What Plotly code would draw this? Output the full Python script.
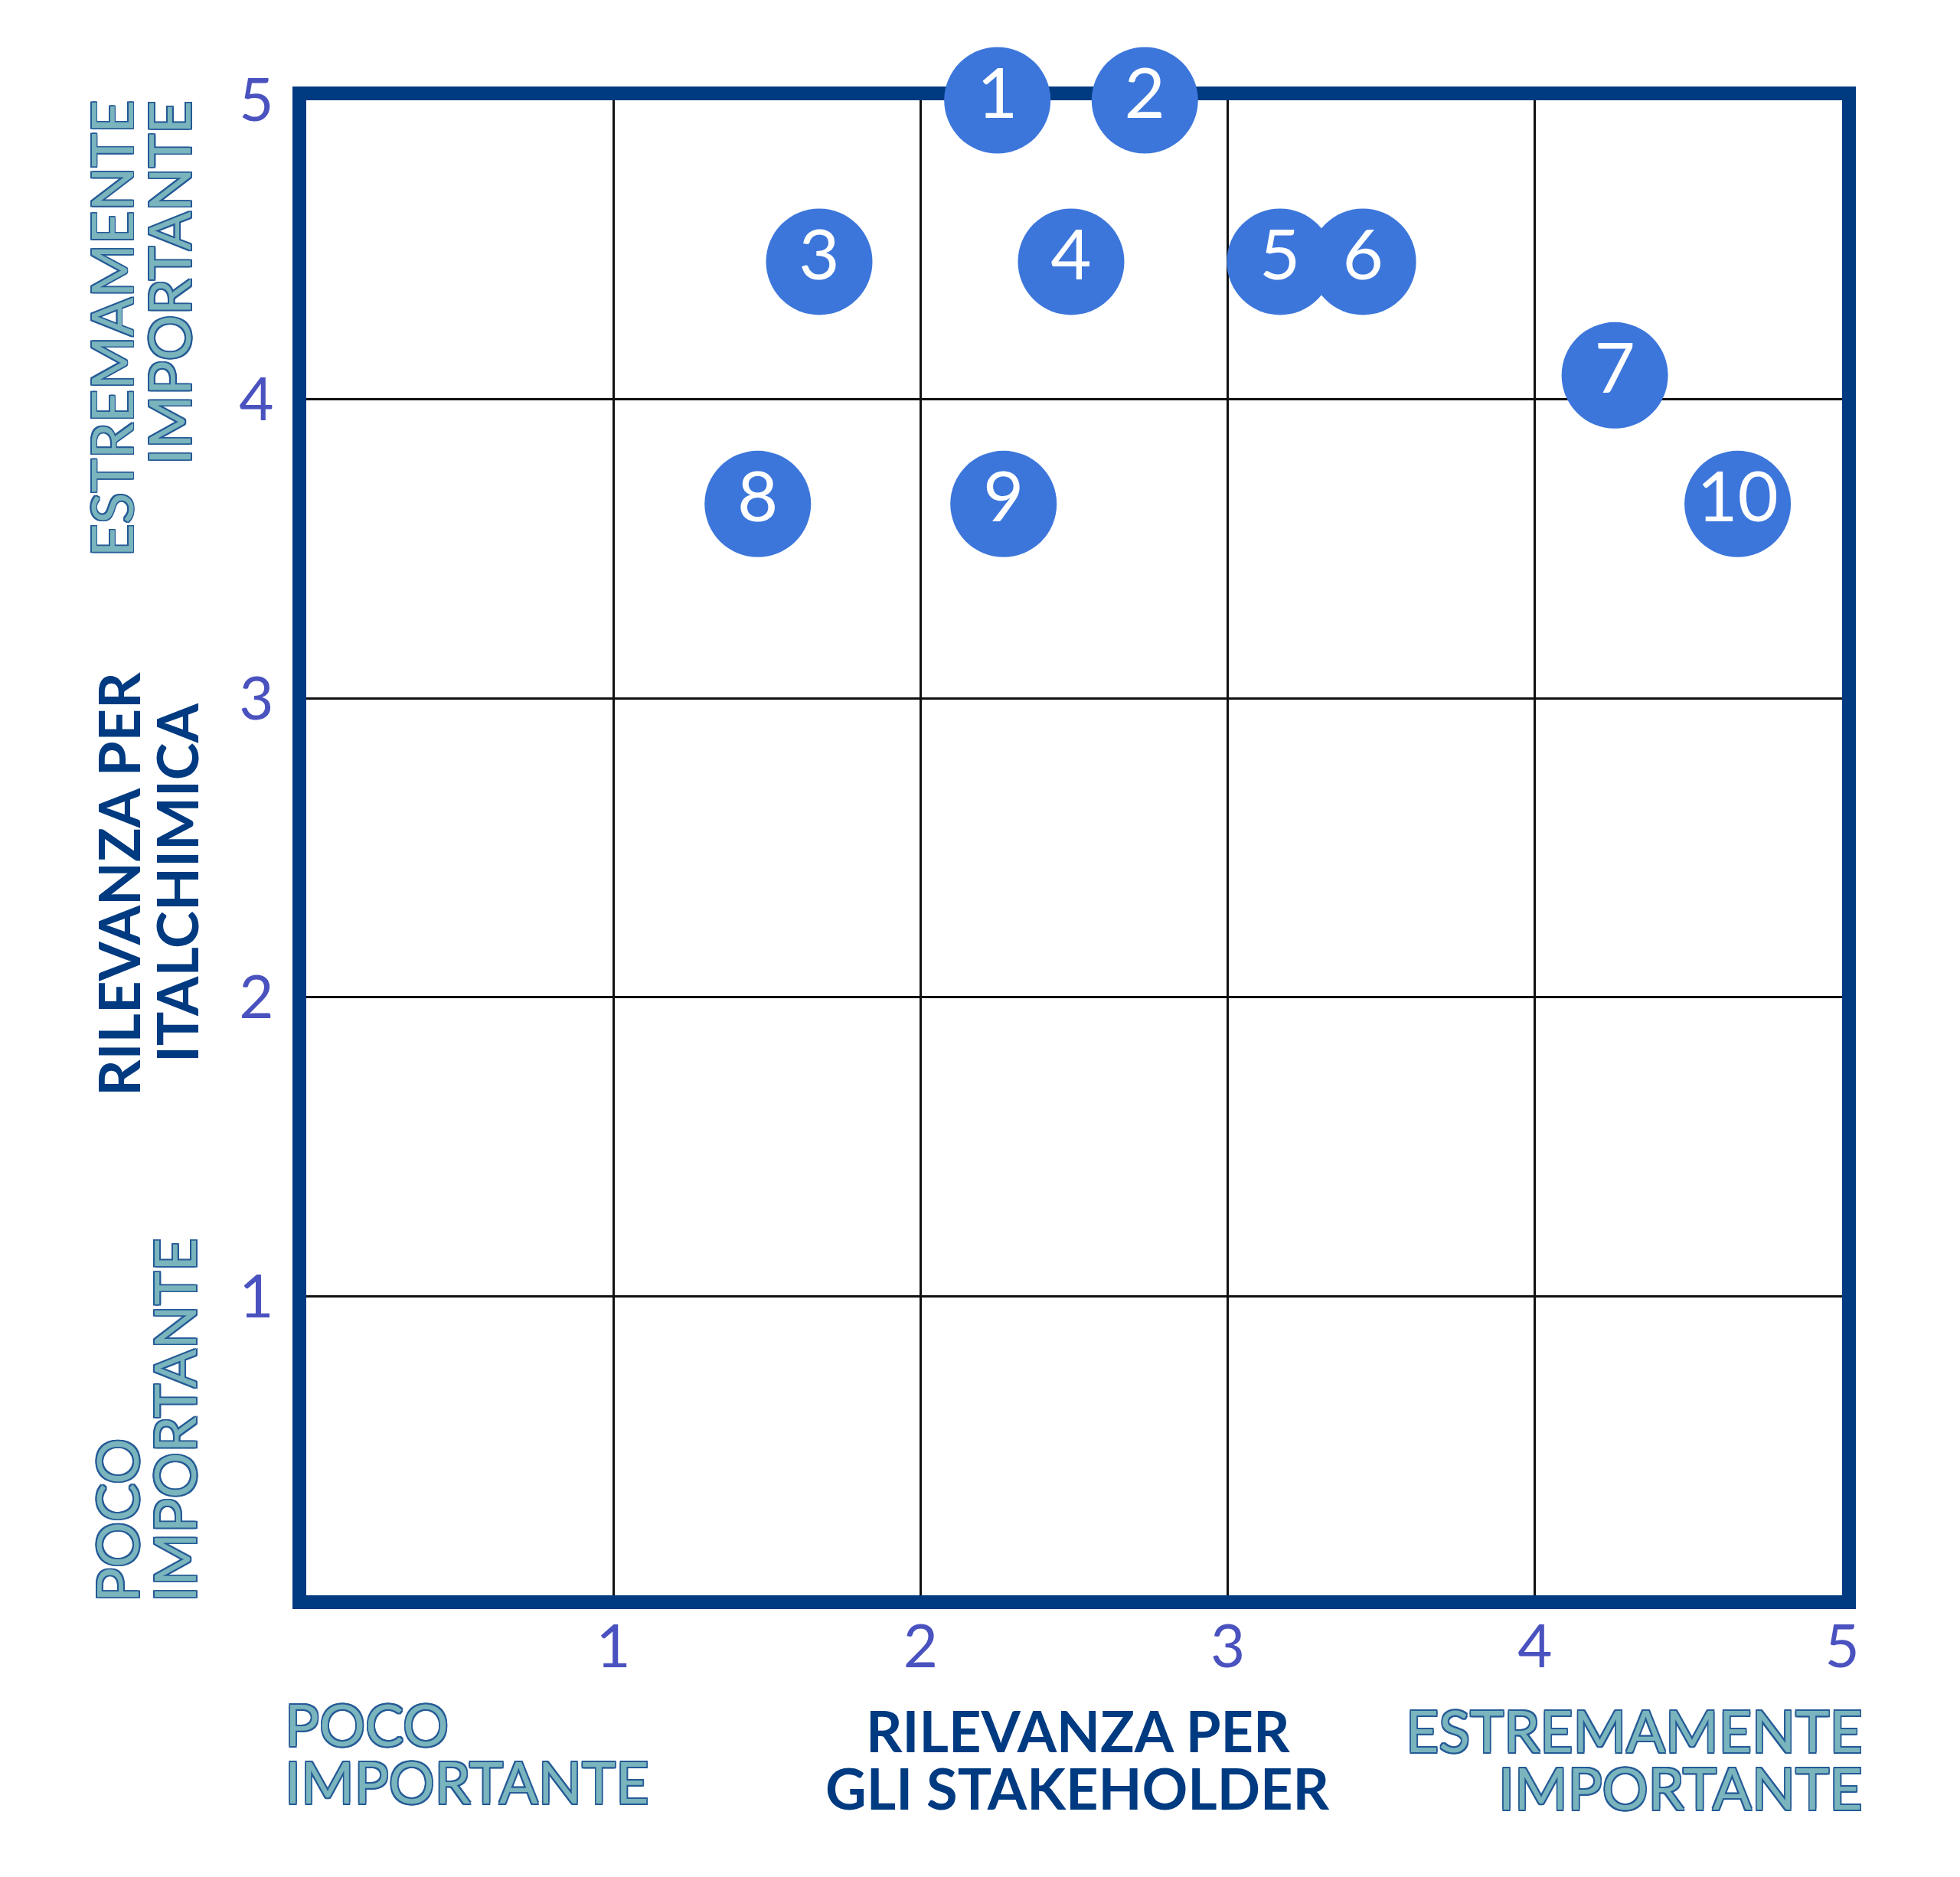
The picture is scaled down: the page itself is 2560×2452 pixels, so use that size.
import plotly.graph_objects as go

# topics placed on the materiality matrix
topic_labels = ["1", "2", "3", "4", "5", "6", "7", "8", "9", "10"]
stakeholder_score = [2.25, 2.73, 1.67, 2.49, 3.17, 3.44, 4.26, 1.47, 2.27, 4.66]
company_score = [5.0, 5.0, 4.46, 4.46, 4.46, 4.46, 4.08, 3.65, 3.65, 3.65]

tick_values = [1, 2, 3, 4, 5]
tick_labels = ["1", "2", "3", "4", "5"]

W, H = 2560, 2452
# the page body adds 8px, so the margins are pulled back by that much
L, R, T, B = 392, 162, 123, 376
PLOT_X0, PLOT_Y1 = 400, 2084  # inner edges of the frame on the page

NAVY = "#003A80"
DOT = "#3C76DB"
TICK = "#4A52BF"
TEAL = "#7AB4BD"
EDGE = "#245A96"
FONT = "Lato"


def outline(color, w=1.6):
    d = [(-w, -w), (w, -w), (-w, w), (w, w), (0, w), (0, -w), (w, 0), (-w, 0)]
    return ", ".join(f"{dx}px {dy}px 0 {color}" for dx, dy in d)


def px(x, y):
    # pixel position on the page -> paper coordinates
    return (x - PLOT_X0) / (W - L - R), (PLOT_Y1 - y) / (H - T - B)


def label(text, x, y, xanchor="center", yanchor="middle", angle=0, bold=False):
    ax, ay = px(x, y)
    if bold:
        font = dict(family=FONT, size=74, color=NAVY, weight=700)
    else:
        font = dict(family=FONT, size=75, color=TEAL, shadow=outline(EDGE))
    return dict(
        text=text, x=ax, y=ay, xref="paper", yref="paper",
        xanchor=xanchor, yanchor=yanchor, textangle=angle,
        showarrow=False, borderpad=0, font=font,
    )


fig = go.Figure(
    go.Scatter(
        x=stakeholder_score,
        y=company_score,
        mode="markers+text",
        text=topic_labels,
        textposition="middle center",
        textfont=dict(family=FONT, size=92, color="white"),
        marker=dict(size=139, color=DOT, line=dict(width=0)),
        cliponaxis=False,
        hoverinfo="skip",
    )
)

axis = dict(
    range=[0, 5],
    tickvals=tick_values,
    ticktext=tick_labels,
    showgrid=True,
    gridcolor="#111111",
    gridwidth=3,
    zeroline=False,
    showline=True,
    linecolor=NAVY,
    linewidth=18,
    mirror=True,
    ticks="",
    layer="below traces",
    tickfont=dict(family=FONT, size=78, color=TICK),
    fixedrange=True,
)

annotations = [
    # bottom axis
    label("POCO", 371, 2252, xanchor="left"),
    label("IMPORTANTE", 371, 2327, xanchor="left"),
    label("RILEVANZA PER", 1408, 2260, bold=True),
    label("GLI STAKEHOLDER", 1407, 2335, bold=True),
    label("ESTREMAMENTE", 2434, 2260, xanchor="right"),
    label("IMPORTANTE", 2434, 2335, xanchor="right"),
    # left axis
    label("ESTREMAMENTE", 145, 130, yanchor="top", angle=-90),
    label("IMPORTANTE", 220, 130, yanchor="top", angle=-90),
    label("RILEVANZA PER", 154, 1155, angle=-90, bold=True),
    label("ITALCHIMICA", 230, 1153, angle=-90, bold=True),
    label("POCO", 152, 2094, yanchor="bottom", angle=-90),
    label("IMPORTANTE", 227, 2094, yanchor="bottom", angle=-90),
]

fig.update_layout(
    width=W,
    height=H,
    margin=dict(l=L, r=R, t=T, b=B),
    paper_bgcolor="white",
    plot_bgcolor="white",
    showlegend=False,
    xaxis=dict(axis, ticklabelstandoff=-18),
    yaxis=dict(axis, ticklabelstandoff=9),
    annotations=annotations,
)

fig.write_html("out.html")
